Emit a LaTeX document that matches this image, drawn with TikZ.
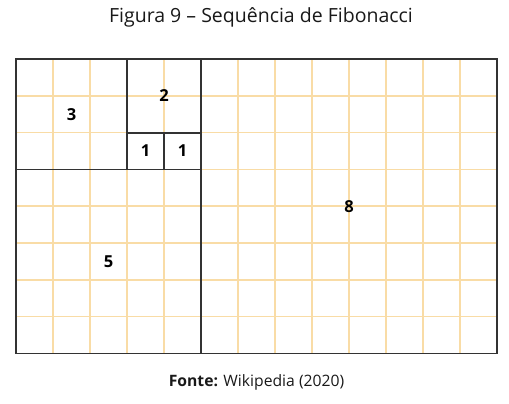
\documentclass[tikz,border=0pt]{standalone}
\usepackage{fontspec}
\setmainfont{Open Sans}
\definecolor{gridor}{HTML}{F9DCA6}
\definecolor{framec}{HTML}{333333}
\tikzset{
  title/.style={inner sep=0pt, font=\fontsize{19.5}{22}\selectfont, text=black!90},
  caption/.style={inner sep=0pt, font=\fontsize{15.7}{18}\selectfont, text=black!90},
  num/.style={inner sep=0pt, font=\fontsize{16.5}{18}\selectfont\bfseries, text=black},
  gridline/.style={draw=gridor, line width=1.6pt},
  sq/.style={draw=framec, line width=1.8pt},
}
\begin{document}
\begin{tikzpicture}[x=1pt,y=-1pt]
\useasboundingbox (0,0) rectangle (509,404);
\node[title] (title) at (261,17) {Figura 9 – Sequência de Fibonacci};
\node[caption] (cap) at (256.5,382) {\textbf{Fonte:} Wikipedia (2020)};
\begin{scope}[shift={(16,59)}, x=37pt, y=-36.8pt]
  \foreach \i in {1,...,12} \draw[gridline] (\i,0) -- (\i,8);
  \foreach \j in {1,...,7} \draw[gridline] (0,\j) -- (13,\j);
  \draw[sq] (0,0) rectangle (13,8);
  \draw[sq] (5,0) -- (5,8);
  \draw[sq] (0,3) -- (5,3);
  \draw[sq] (3,0) -- (3,3);
  \draw[sq] (3,2) -- (5,2);
  \draw[sq] (4,2) -- (4,3);
  \node[num] (n3) at (1.5,1.5) {3};
  \node[num] (n2) at (4,1) {2};
  \node[num] (n1a) at (3.5,2.5) {1};
  \node[num] (n1b) at (4.5,2.5) {1};
  \node[num] (n8) at (9,4) {8};
  \node[num] (n5) at (2.5,5.5) {5};
\end{scope}
\end{tikzpicture}
\end{document}
